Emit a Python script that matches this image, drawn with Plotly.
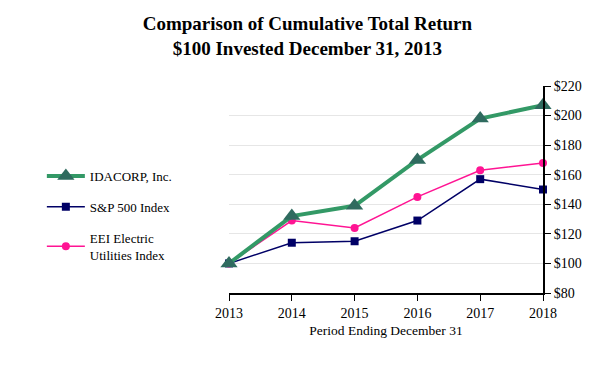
import plotly.graph_objects as go

years = [2013, 2014, 2015, 2016, 2017, 2018]
idacorp = [100, 132, 139, 170, 198, 207]
sp500 = [100, 114, 115, 129, 157, 150]
eei = [100, 129, 124, 145, 163, 168]
y_ticks = [80, 100, 120, 140, 160, 180, 200, 220]
y_tick_labels = ["$" + str(v) for v in y_ticks]

FONT = "Liberation Serif"

fig = go.Figure()
fig.add_trace(go.Scatter(
    x=years, y=sp500, name="S&P 500 Index", mode="lines+markers",
    line=dict(color="#000066", width=1.5),
    marker=dict(symbol="square", size=8, color="#000066"),
    cliponaxis=False, legendgroup="b", legendrank=2))
fig.add_trace(go.Scatter(
    x=years, y=eei, name="EEI Electric<br>Utilities Index", mode="lines+markers",
    line=dict(color="#ff1493", width=1.5),
    marker=dict(symbol="circle", size=8, color="#ff1493"),
    cliponaxis=False, legendgroup="c", legendrank=3))
fig.add_trace(go.Scatter(
    x=years, y=idacorp, name="IDACORP, Inc.", mode="lines+markers",
    line=dict(color="#339966", width=4),
    marker=dict(symbol="triangle-up", size=15, color="#2f6b5f"),
    cliponaxis=False, legendgroup="a", legendrank=1))

# page body has an 8px margin, so the figure is sized/shifted to compensate
fig.update_layout(
    width=606, height=368,
    margin=dict(l=221, r=71, t=78, b=83),
    paper_bgcolor="white", plot_bgcolor="white",
    font=dict(family=FONT, size=14, color="black"),
    title=dict(text="<b>Comparison of Cumulative Total Return<br>$100 Invested December 31, 2013</b>",
               x=0.494, xanchor="center", y=0.94, yanchor="top",
               font=dict(family=FONT, size=19, color="black")),
    showlegend=True,
    legend=dict(x=-0.596, xanchor="left", y=0.638, yanchor="top",
                traceorder="grouped", tracegroupgap=11, itemwidth=38,
                font=dict(family=FONT, size=13, color="black"),
                bgcolor="rgba(0,0,0,0)"),
    xaxis=dict(range=[2013, 2018], tickvals=years, ticktext=[str(y) for y in years],
               showgrid=False, showline=True, linecolor="black", linewidth=2,
               ticks="outside", ticklen=6, tickcolor="black", zeroline=False,
               tickfont=dict(family=FONT, size=14),
               title=dict(text="Period Ending December 31", standoff=6,
                          font=dict(family=FONT, size=13.5))),
    yaxis=dict(range=[80, 220], side="right", tickvals=y_ticks, ticktext=y_tick_labels,
               showgrid=True, gridcolor="#e6e6e6", gridwidth=1,
               showline=True, linecolor="black", linewidth=2,
               ticks="outside", ticklen=6, tickcolor="black", zeroline=False,
               tickfont=dict(family=FONT, size=14)),
)

fig.write_html("out.html")
